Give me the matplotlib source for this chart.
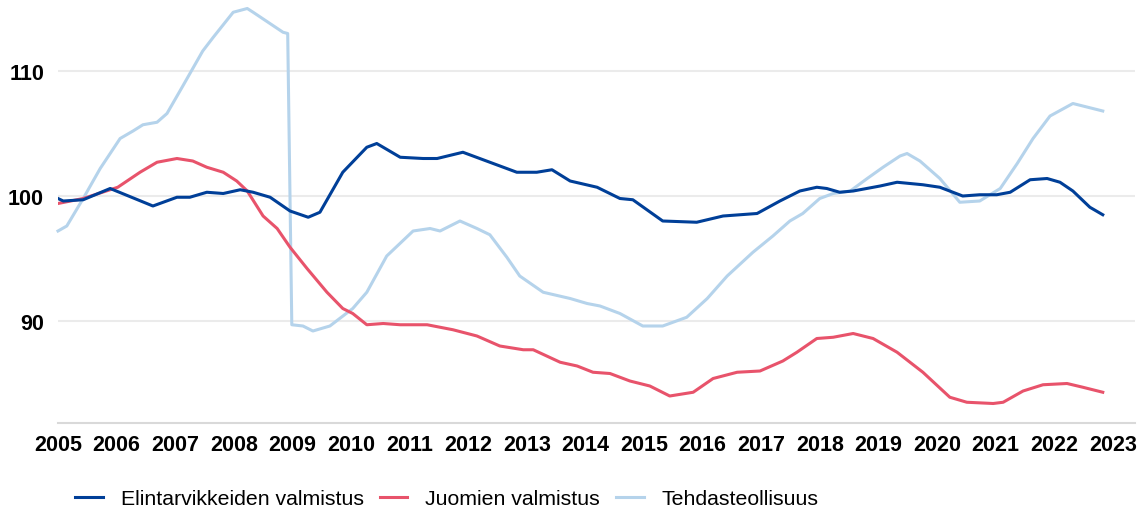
import matplotlib as mpl
mpl.use('Agg')

import matplotlib.pyplot as plt

plt.rcParams['font.family'] = ['Liberation Sans', 'DejaVu Sans']

# series (decimal year, index value)
food_x = [2005.00, 2005.09, 2005.43, 2005.89, 2006.62, 2007.03, 2007.25, 2007.54,
          2007.82, 2008.11, 2008.33, 2008.62, 2008.96, 2009.27, 2009.47, 2009.86,
          2010.27, 2010.44, 2010.84, 2011.23, 2011.47, 2011.91, 2012.37, 2012.83,
          2013.17, 2013.43, 2013.74, 2014.20, 2014.59, 2014.81, 2015.32, 2015.90,
          2016.35, 2016.93, 2017.32, 2017.66, 2017.95, 2018.12, 2018.34, 2018.57,
          2019.03, 2019.32, 2019.76, 2020.05, 2020.44, 2020.73, 2021.02, 2021.25,
          2021.59, 2021.88, 2022.10, 2022.32, 2022.61, 2022.83]
food_y = [99.8, 99.6, 99.7, 100.6, 99.2, 99.9, 99.9, 100.3,
          100.2, 100.5, 100.3, 99.9, 98.8, 98.3, 98.7, 101.9,
          103.9, 104.2, 103.1, 103.0, 103.0, 103.5, 102.7, 101.9,
          101.9, 102.1, 101.2, 100.7, 99.8, 99.7, 98.0, 97.9,
          98.4, 98.6, 99.6, 100.4, 100.7, 100.6, 100.3, 100.4,
          100.8, 101.1, 100.9, 100.7, 100.0, 100.1, 100.1, 100.3,
          101.3, 101.4, 101.1, 100.4, 99.1, 98.5]

drink_x = [2005.00, 2005.43, 2006.02, 2006.40, 2006.69, 2007.03, 2007.30, 2007.54,
           2007.82, 2008.05, 2008.23, 2008.50, 2008.74, 2008.96, 2009.25, 2009.59,
           2009.86, 2010.03, 2010.27, 2010.55, 2010.84, 2011.30, 2011.74, 2012.15,
           2012.54, 2012.94, 2013.11, 2013.57, 2013.86, 2014.13, 2014.42, 2014.76,
           2015.10, 2015.44, 2015.84, 2016.18, 2016.59, 2016.98, 2017.37, 2017.61,
           2017.95, 2018.23, 2018.57, 2018.91, 2019.32, 2019.76, 2020.22, 2020.51,
           2020.96, 2021.13, 2021.47, 2021.81, 2022.22, 2022.49, 2022.83]
drink_y = [99.4, 99.8, 100.7, 101.9, 102.7, 103.0, 102.8, 102.3,
           101.9, 101.2, 100.4, 98.4, 97.4, 95.9, 94.2, 92.3,
           91.0, 90.6, 89.7, 89.8, 89.7, 89.7, 89.3, 88.8,
           88.0, 87.7, 87.7, 86.7, 86.4, 85.9, 85.8, 85.2,
           84.8, 84.0, 84.3, 85.4, 85.9, 86.0, 86.8, 87.5,
           88.6, 88.7, 89.0, 88.6, 87.5, 85.9, 83.9, 83.5,
           83.4, 83.5, 84.4, 84.9, 85.0, 84.7, 84.3]

manuf_x = [2005.00, 2005.15, 2005.43, 2005.72, 2006.06, 2006.28, 2006.45, 2006.69,
           2006.86, 2007.13, 2007.47, 2007.65, 2007.99, 2008.23, 2008.33, 2008.84,
           2008.92, 2008.99, 2009.18, 2009.35, 2009.64, 2010.03, 2010.27, 2010.61,
           2011.06, 2011.35, 2011.52, 2011.86, 2012.15, 2012.37, 2012.66, 2012.88,
           2013.28, 2013.74, 2014.03, 2014.25, 2014.59, 2014.98, 2015.32, 2015.73,
           2016.08, 2016.42, 2016.86, 2017.20, 2017.49, 2017.71, 2018.00, 2018.23,
           2018.52, 2018.81, 2019.08, 2019.37, 2019.49, 2019.71, 2020.05, 2020.39,
           2020.73, 2021.08, 2021.37, 2021.64, 2021.93, 2022.32, 2022.83]
manuf_y = [97.2, 97.6, 99.8, 102.2, 104.6, 105.2, 105.7, 105.9,
           106.6, 108.8, 111.6, 112.7, 114.7, 115.0, 114.7, 113.1,
           113.0, 89.7, 89.6, 89.2, 89.6, 91.0, 92.3, 95.2,
           97.2, 97.4, 97.2, 98.0, 97.4, 96.9, 95.1, 93.6,
           92.3, 91.8, 91.4, 91.2, 90.6, 89.6, 89.6, 90.3,
           91.8, 93.6, 95.5, 96.8, 98.0, 98.6, 99.8, 100.2,
           100.4, 101.4, 102.3, 103.2, 103.4, 102.8, 101.4, 99.5,
           99.6, 100.6, 102.6, 104.6, 106.4, 107.4, 106.8]

years = list(range(2005, 2024))
labels = ['Elintarvikkeiden valmistus', 'Juomien valmistus', 'Tehdasteollisuus']

fig = plt.figure(figsize=(11.38, 5.1), dpi=100)
ax = fig.add_axes([58 / 1138, 86 / 510, 1077 / 1138, 422 / 510])

ax.plot(food_x, food_y, color='#003f98', lw=2.2, label=labels[0], zorder=4)
ax.plot(drink_x, drink_y, color='#e8536b', lw=2.2, label=labels[1], zorder=3)
ax.plot(manuf_x, manuf_y, color='#b5d3eb', lw=2.2, label=labels[2], zorder=2,
        clip_on=False)

ax.set_xlim(2005, 2023.38)
ax.set_ylim(81.84, 115.6)
ax.set_yticks([90, 100, 110])
ax.set_xticks(years)
ax.set_xticklabels([str(y) for y in years])
ax.tick_params(axis='both', length=0, labelsize=15.5)
ax.tick_params(axis='y', pad=10)
ax.tick_params(axis='x', pad=8)
for t in ax.get_xticklabels() + ax.get_yticklabels():
    t.set_fontweight('bold')

ax.grid(axis='y', color='#ebebeb', lw=1.5)
ax.set_axisbelow(True)
for s in ['top', 'right', 'left']:
    ax.spines[s].set_visible(False)
ax.spines['bottom'].set_color('#d9d9d9')
ax.spines['bottom'].set_linewidth(1.5)

fig.legend(loc='center left', bbox_to_anchor=(75 / 1138, 10 / 510), ncol=3,
           frameon=False, fontsize=15.3, handlelength=1.3, handletextpad=0.85,
           columnspacing=0.75, borderpad=0, borderaxespad=0)

plt.savefig('out.png', dpi=100)
plt.close()
